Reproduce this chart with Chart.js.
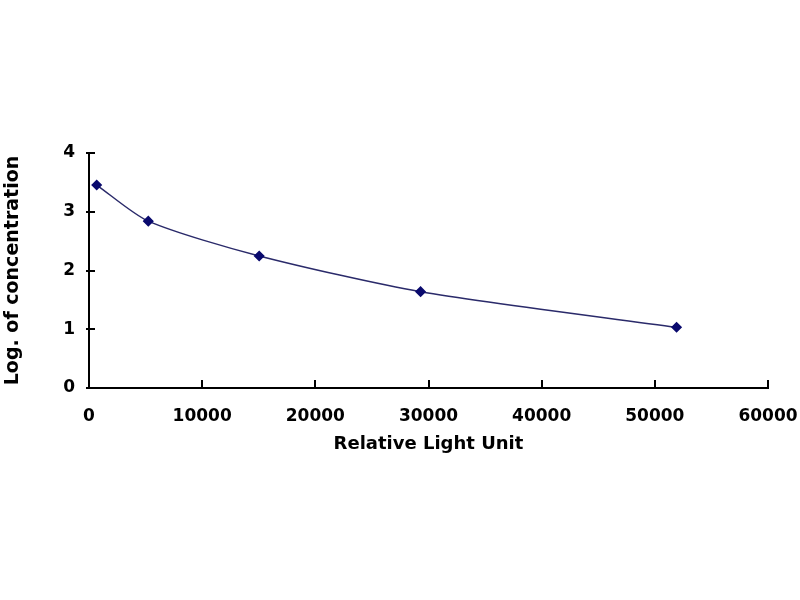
<!DOCTYPE html>
<html>
<head>
<meta charset="utf-8">
<script src="https://cdn.jsdelivr.net/npm/chart.js@4"></script>
<style>
html,body{margin:0;padding:0;background:#fff;}
#wrap{width:800px;height:600px;}
</style>
</head>
<body>
<div id="wrap"><canvas id="c" width="800" height="600"></canvas></div>
<script>
const rluValues = [680, 5240, 15040, 29300, 51920];
const logConc = [3.455, 2.84, 2.247, 1.64, 1.033];
const xTicks = [0, 10000, 20000, 30000, 40000, 50000, 60000];
const yTicks = [0, 1, 2, 3, 4];
const xTitle = 'Relative Light Unit';
const yTitle = 'Log. of concentration';

const points = rluValues.map((x, i) => ({x: x, y: logConc[i]}));

const innerTicks = {
  id: 'innerTicks',
  afterDraw(chart) {
    const ctx = chart.ctx;
    const xs = chart.scales.x, ys = chart.scales.y;
    const ca = chart.chartArea;
    ctx.save();
    ctx.strokeStyle = '#000';
    ctx.lineWidth = 2;
    xTicks.forEach(v => {
      if (v === 0) return;
      const px = Math.round(xs.getPixelForValue(v));
      ctx.beginPath(); ctx.moveTo(px, ca.bottom); ctx.lineTo(px, ca.bottom - 8); ctx.stroke();
    });
    yTicks.forEach(v => {
      const py = Math.round(ys.getPixelForValue(v));
      ctx.beginPath(); ctx.moveTo(ca.left - 3, py); ctx.lineTo(ca.left + 6, py); ctx.stroke();
    });
    ctx.restore();
  }
};

new Chart(document.getElementById('c'), {
  type: 'line',
  data: {
    datasets: [{
      data: points,
      borderColor: '#2a2a6a',
      borderWidth: 1.5,
      tension: 0.25,
      pointStyle: 'rectRot',
      pointRadius: 4.5,
      pointBackgroundColor: '#0a0a6e',
      pointBorderColor: '#0a0a6e',
      fill: false
    }]
  },
  options: {
    responsive: false,
    animation: false,
    layout: {padding: {left: 0, right: 32, top: 153, bottom: 145}},
    plugins: {legend: {display: false}, tooltip: {enabled: false}},
    scales: {
      x: {
        type: 'linear',
        min: 0, max: 60000,
        afterBuildTicks: s => { s.ticks = xTicks.map(v => ({value: v})); },
        afterFit: s => { s.height = 67; s.paddingLeft = 0; s.paddingRight = 0; },
        grid: {display: false},
        border: {display: true, color: '#000', width: 2},
        ticks: {
          color: '#000', padding: 10, maxRotation: 0,
          font: {family: 'DejaVu Sans', size: 17, weight: 'bold'},
          callback: v => String(v)
        },
        title: {
          display: true, text: xTitle, color: '#000',
          padding: {top: 0, bottom: 0},
          font: {family: 'DejaVu Sans', size: 18, weight: 'bold'}
        }
      },
      y: {
        min: 0, max: 4,
        afterBuildTicks: s => { s.ticks = yTicks.map(v => ({value: v})); },
        afterFit: s => { s.width = 89; s.paddingTop = 0; s.paddingBottom = 0; },
        grid: {display: false},
        border: {display: true, color: '#000', width: 2},
        ticks: {
          color: '#000', padding: 6,
          font: {family: 'DejaVu Sans', size: 17, weight: 'bold'},
          callback: v => String(v)
        },
        title: {
          display: true, text: yTitle, color: '#000',
          padding: {top: 2, bottom: 0},
          font: {family: 'DejaVu Sans', size: 19, weight: 'bold'}
        }
      }
    }
  },
  plugins: [innerTicks]
});
</script>
</body>
</html>
